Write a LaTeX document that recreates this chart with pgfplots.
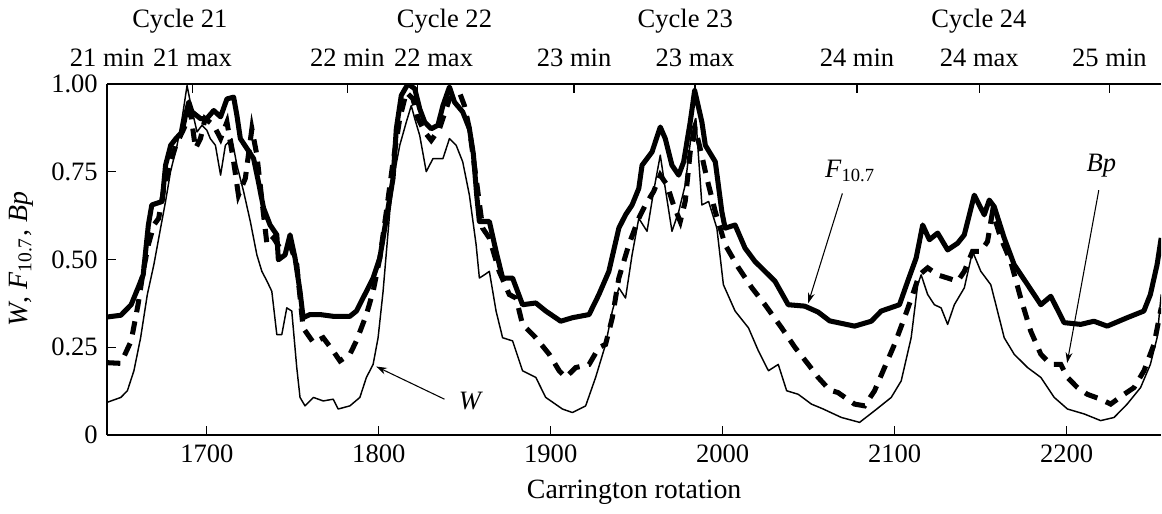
\documentclass[border=0pt]{standalone}
\usepackage{pgfplots}
\pgfplotsset{compat=1.18}
\usepackage{fontspec}
\setmainfont{Liberation Serif}
\usetikzlibrary{arrows.meta}
\begin{document}
\begin{tikzpicture}[font=\fontsize{10}{12}\selectfont]
\pgfplotsset{
  base/.style={
    scale only axis, width=397.1pt, height=132.3pt,
    xmin=1642, xmax=2255, ymin=0, ymax=1,
    tick style={black, line width=0.5pt},
    major tick length=3.4pt,
    tick align=inside,
    axis line style={-, line width=0.6pt},
    ticklabel style={font=\fontsize{10}{12}\selectfont},
    /pgf/number format/assume math mode=true,
    /pgf/number format/1000 sep={},
  }
}
\begin{axis}[base,
  axis x line*=bottom, axis y line*=left,
  xtick={1700,1800,1900,2000,2100,2200},
  ytick={0,0.25,0.5,0.75,1},
  yticklabels={0,0.25,0.50,0.75,1.00},
  xlabel={Carrington rotation},
  ylabel={\textit{W}, \textit{F}\textsubscript{10.7}, \textit{Bp}},
  label style={font=\fontsize{10.5}{12}\selectfont},
]
\addplot[black, line width=0.55pt, line join=round] coordinates {
(1642,0.093)(1650,0.107)(1653.8,0.126)(1657.6,0.183)(1661.5,0.277)(1665.4,0.400)(1669.2,0.485)(1673.1,0.589)(1676,0.665)(1678.9,0.750)(1682.7,0.825)(1685.6,0.901)(1688.5,0.995)(1690.8,0.938)(1694.3,0.863)(1697.2,0.882)(1700,0.868)(1702,0.844)(1705,0.825)(1708,0.740)(1710.8,0.825)(1714.6,0.844)(1717.5,0.768)(1721.4,0.693)(1725.3,0.608)(1729.1,0.513)(1732,0.466)(1735,0.438)(1737.8,0.409)(1740.7,0.286)(1743.6,0.286)(1746.5,0.362)(1749.4,0.353)(1752.3,0.192)(1754.2,0.107)(1757.1,0.083)(1762,0.107)(1767.7,0.097)(1773.5,0.102)(1776.4,0.074)(1783.2,0.083)(1789,0.107)(1792.8,0.164)(1796.7,0.201)(1799.6,0.277)(1802.5,0.409)(1806.4,0.636)(1809.3,0.750)(1812.2,0.825)(1816,0.891)(1818.9,0.938)(1820.9,0.901)(1823.8,0.853)(1827.6,0.750)(1831.5,0.787)(1837.3,0.787)(1841.1,0.844)(1845,0.825)(1848.8,0.778)(1852.7,0.683)(1856.6,0.542)(1858.5,0.447)(1861.4,0.456)(1864.3,0.466)(1868.2,0.353)(1872,0.277)(1877.8,0.268)(1883.6,0.183)(1891.3,0.164)(1897.1,0.107)(1906.8,0.074)(1912.6,0.064)(1920.3,0.083)(1926.1,0.164)(1931.9,0.258)(1935.8,0.353)(1939.6,0.419)(1943.5,0.390)(1947.3,0.513)(1951.2,0.617)(1956,0.580)(1959.8,0.693)(1963.7,0.797)(1966.6,0.702)(1970.5,0.580)(1974.4,0.636)(1978.2,0.712)(1982.1,0.872)(1984.4,0.901)(1987.9,0.655)(1991.8,0.665)(1996.6,0.589)(2000.4,0.428)(2007.2,0.353)(2015,0.305)(2020.8,0.239)(2026.6,0.183)(2032.3,0.201)(2037.2,0.126)(2043.9,0.116)(2051.6,0.088)(2058,0.075)(2069,0.050)(2079.6,0.036)(2088.3,0.069)(2098,0.107)(2103.8,0.154)(2109.6,0.277)(2113.4,0.428)(2115.4,0.456)(2119.2,0.400)(2123.1,0.371)(2127,0.362)(2130.8,0.315)(2134.7,0.371)(2140.5,0.419)(2145.3,0.523)(2150.1,0.466)(2155.9,0.428)(2159.8,0.353)(2163.7,0.277)(2169.5,0.230)(2177.3,0.192)(2185,0.164)(2192.8,0.107)(2200.5,0.074)(2210.2,0.060)(2219.8,0.041)(2227.6,0.050)(2235.2,0.088)(2243,0.135)(2248.7,0.201)(2252.6,0.277)(2255,0.400)
};
\addplot[black, line width=1.9pt, dash pattern=on 5pt off 3.5pt] coordinates {
(1642,0.206)(1650,0.204)(1656,0.268)(1660,0.371)(1663,0.466)(1666,0.542)(1669.2,0.598)(1672,0.617)(1675,0.702)(1679,0.778)(1682,0.825)(1686.6,0.872)(1690.5,0.920)(1693.4,0.816)(1696.3,0.844)(1699,0.901)(1704,0.882)(1708,0.844)(1711.7,0.891)(1715.6,0.778)(1718.4,0.683)(1722.4,0.731)(1726.2,0.872)(1729.1,0.797)(1733,0.627)(1735,0.542)(1738.8,0.561)(1742.6,0.532)(1748.4,0.542)(1752.3,0.485)(1756,0.305)(1762,0.263)(1767.7,0.277)(1773.5,0.239)(1777.4,0.211)(1783.2,0.230)(1787,0.268)(1792.8,0.343)(1796.7,0.409)(1800.6,0.504)(1804.4,0.636)(1808.3,0.778)(1812.2,0.901)(1816,0.976)(1819.9,0.957)(1822.8,0.901)(1826.7,0.863)(1830.5,0.839)(1835.3,0.872)(1841.1,0.957)(1846.9,0.976)(1849.8,0.938)(1852.7,0.872)(1856.6,0.731)(1860.4,0.589)(1864.3,0.561)(1870,0.466)(1875.9,0.400)(1879.8,0.390)(1883.6,0.315)(1891.3,0.277)(1899.1,0.230)(1904.9,0.183)(1908.7,0.164)(1914.5,0.192)(1922.3,0.201)(1928,0.249)(1931.9,0.258)(1935.8,0.334)(1939.6,0.447)(1945.4,0.542)(1951.2,0.617)(1955,0.655)(1959.8,0.693)(1963.7,0.740)(1967.6,0.712)(1971.4,0.655)(1975.3,0.608)(1978.2,0.665)(1981.1,0.806)(1984,0.872)(1986.9,0.816)(1990.8,0.731)(1995.7,0.636)(2001.4,0.542)(2009.2,0.476)(2017,0.419)(2024.6,0.371)(2034.3,0.305)(2042.1,0.249)(2049.8,0.201)(2055.5,0.164)(2062.2,0.128)(2067,0.121)(2076.7,0.088)(2082.5,0.083)(2088.3,0.126)(2094.1,0.192)(2099.9,0.258)(2105.7,0.334)(2110.5,0.400)(2114.3,0.456)(2119.2,0.476)(2125,0.456)(2130.8,0.447)(2136.6,0.438)(2140.5,0.466)(2145.3,0.523)(2150.1,0.523)(2154,0.551)(2156.9,0.636)(2161.7,0.561)(2167.5,0.494)(2173.3,0.390)(2179.1,0.296)(2185,0.230)(2190.8,0.201)(2196.6,0.201)(2200.5,0.164)(2206.3,0.135)(2212,0.116)(2219.8,0.102)(2225.6,0.088)(2233.4,0.116)(2239.2,0.135)(2245,0.183)(2250.8,0.258)(2255,0.362)
};
\addplot[black, line width=1.9pt, line join=round] coordinates {
(1642,0.336)(1650,0.341)(1656,0.371)(1660,0.419)(1663,0.456)(1666,0.598)(1668,0.655)(1674,0.665)(1676,0.768)(1679,0.825)(1682,0.844)(1685.6,0.863)(1687.6,0.910)(1689.5,0.948)(1691.4,0.920)(1696.3,0.901)(1700,0.901)(1704,0.924)(1708,0.906)(1711.7,0.957)(1715.6,0.962)(1717.5,0.910)(1719.5,0.844)(1723.3,0.816)(1727.2,0.787)(1730,0.721)(1733,0.646)(1736.8,0.598)(1740.7,0.570)(1741.6,0.499)(1745.5,0.513)(1748.4,0.570)(1751.3,0.504)(1754.2,0.409)(1756,0.334)(1760,0.343)(1765.8,0.343)(1773.5,0.338)(1783.2,0.338)(1787,0.353)(1792.8,0.409)(1796.7,0.447)(1800.6,0.504)(1804.4,0.617)(1808.3,0.731)(1810.2,0.872)(1813.1,0.967)(1817,1.0)(1820.9,0.986)(1823.8,0.929)(1826.7,0.891)(1830.5,0.872)(1834.4,0.882)(1837.3,0.938)(1841.1,0.991)(1844,0.948)(1848.8,0.920)(1852.7,0.872)(1855,0.80)(1857,0.68)(1858.5,0.608)(1864.3,0.608)(1868.2,0.523)(1872,0.447)(1877.8,0.447)(1883.6,0.371)(1891.3,0.376)(1897.1,0.353)(1905.8,0.324)(1912.6,0.334)(1922.3,0.343)(1928,0.400)(1933.8,0.466)(1939.6,0.589)(1943.5,0.627)(1947.3,0.655)(1951.2,0.702)(1953.1,0.768)(1958.9,0.806)(1963.7,0.877)(1966.6,0.844)(1970.5,0.768)(1974.4,0.740)(1977.3,0.778)(1981.1,0.891)(1983.7,0.981)(1987.9,0.891)(1989.9,0.825)(1995.7,0.778)(1999.5,0.636)(2001.4,0.589)(2007.2,0.598)(2013,0.532)(2018.8,0.494)(2024.6,0.466)(2030.4,0.438)(2038.1,0.371)(2047.7,0.367)(2055.5,0.350)(2062.2,0.325)(2067,0.320)(2076.7,0.310)(2086.4,0.324)(2092.2,0.353)(2102.8,0.371)(2107.6,0.438)(2112.5,0.504)(2116.3,0.598)(2120.2,0.556)(2125,0.575)(2130.8,0.527)(2136.6,0.546)(2140.5,0.570)(2146.3,0.683)(2152.1,0.627)(2155,0.669)(2157.9,0.650)(2163.7,0.561)(2169.5,0.485)(2177.3,0.428)(2185,0.371)(2190.8,0.395)(2198.5,0.320)(2208.2,0.315)(2215.9,0.324)(2223.6,0.310)(2235.2,0.334)(2244.9,0.353)(2248.7,0.400)(2252.6,0.485)(2255,0.561)
};
\end{axis}
\begin{axis}[base,
  axis x line*=top, axis y line=none,
  xtick={1642,1691.7,1781.7,1822.6,1913.6,1983.9,2078.1,2149.2,2224.9},
  xticklabels={21 min,21 max,22 min,\hspace*{12pt}22 max,23 min,23 max,24 min,24 max,25 min},
  xticklabel style={yshift=3pt},
  ytick=\empty, clip=false,
]
\node[anchor=base] at (axis cs:1684.3,1.161) {Cycle 21};
\node[anchor=base] at (axis cs:1838.2,1.161) {Cycle 22};
\node[anchor=base] at (axis cs:1978.2,1.161) {Cycle 23};
\node[anchor=base] at (axis cs:2149,1.161) {Cycle 24};
\node at (axis cs:2074.2,0.753) {\textit{F}\textsubscript{10.7}};
\node at (axis cs:2220.2,0.767) {\textit{Bp}};
\node at (axis cs:1853.6,0.098) {\textit{W}};
\draw[line width=0.4pt, -{Stealth[length=4pt,width=2.6pt]}] (axis cs:2069.6,0.688) -- (axis cs:2049.7,0.375);
\draw[line width=0.4pt, -{Stealth[length=4pt,width=2.6pt]}] (axis cs:2218.7,0.697) -- (axis cs:2200.3,0.205);
\draw[line width=0.4pt, -{Stealth[length=4pt,width=2.6pt]}] (axis cs:1838.2,0.102) -- (axis cs:1798.5,0.195);
\end{axis}
\end{tikzpicture}
\end{document}
